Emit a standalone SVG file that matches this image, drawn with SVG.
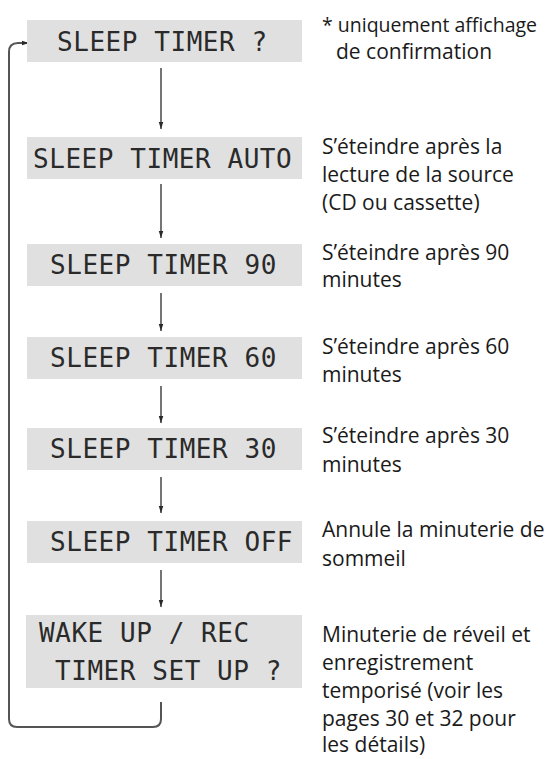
<svg xmlns="http://www.w3.org/2000/svg" width="551" height="759" viewBox="0 0 551 759">
<defs>
<marker id="ah" markerWidth="7" markerHeight="8" viewBox="0 0 10 10" refX="10" refY="5" orient="auto" markerUnits="userSpaceOnUse">
<path d="M0,1.8 L10,5 L0,8.2 Z" fill="#2a2a2a"/>
</marker>
<style>
.box{fill:#e0e0e0}
.lcd{font-family:"DejaVu Sans Mono","Liberation Mono",monospace;font-size:26px;letter-spacing:0.55px;fill:#2a2a2a}
.note{font-family:"Open Sans","Noto Sans",sans-serif;font-size:21px;fill:#1a1a1a}
.arr{stroke:#2a2a2a;stroke-width:1.3;fill:none;marker-end:url(#ah)}
.loop{stroke:#555;stroke-width:2;fill:none;marker-end:url(#ah)}
</style>
</defs>
<rect width="551" height="759" fill="#fff"/>
<g id="connectors">
<line class="arr" x1="161" y1="68" x2="161" y2="129"/>
<line class="arr" x1="161" y1="184" x2="161" y2="238"/>
<line class="arr" x1="161" y1="293" x2="161" y2="331"/>
<line class="arr" x1="161" y1="386" x2="161" y2="423"/>
<line class="arr" x1="161" y1="477" x2="161" y2="513"/>
<line class="arr" x1="161" y1="570" x2="161" y2="607"/>
<path class="loop" d="M161,702 V719 Q161,727 153,727 H17 Q9,727 9,719 V52 Q9,43 18,43 H29"/>
</g>
<g id="n1">
<rect class="box" x="27" y="20" width="275" height="42"/>
<text class="lcd" x="57" y="51">SLEEP TIMER ?</text>
<text class="note" x="322" y="32" style="font-size:19.5px">* uniquement affichage</text>
<text class="note" x="336" y="59">de confirmation</text>
</g>
<g id="n2">
<rect class="box" x="27" y="137" width="275" height="42"/>
<text class="lcd" x="33" y="168">SLEEP TIMER AUTO</text>
<text class="note" x="322" y="154">S’éteindre après la</text>
<text class="note" x="322" y="182">lecture de la source</text>
<text class="note" x="322" y="210">(CD ou cassette)</text>
</g>
<g id="n3">
<rect class="box" x="27" y="244" width="275" height="42"/>
<text class="lcd" x="50" y="274">SLEEP TIMER 90</text>
<text class="note" x="322" y="260">S’éteindre après 90</text>
<text class="note" x="322" y="287">minutes</text>
</g>
<g id="n4">
<rect class="box" x="27" y="337" width="275" height="42"/>
<text class="lcd" x="50" y="367">SLEEP TIMER 60</text>
<text class="note" x="322" y="354">S’éteindre après 60</text>
<text class="note" x="322" y="382">minutes</text>
</g>
<g id="n5">
<rect class="box" x="27" y="428" width="275" height="42"/>
<text class="lcd" x="50" y="458">SLEEP TIMER 30</text>
<text class="note" x="322" y="443">S’éteindre après 30</text>
<text class="note" x="322" y="472">minutes</text>
</g>
<g id="n6">
<rect class="box" x="27" y="521" width="275" height="42"/>
<text class="lcd" x="50" y="551">SLEEP TIMER OFF</text>
<text class="note" x="322" y="537">Annule la minuterie de</text>
<text class="note" x="322" y="566">sommeil</text>
</g>
<g id="n7">
<rect class="box" x="26" y="615" width="276" height="73"/>
<text class="lcd" x="39" y="642">WAKE UP / REC</text>
<text class="lcd" x="55" y="680">TIMER SET UP ?</text>
<text class="note" x="322" y="642">Minuterie de réveil et</text>
<text class="note" x="322" y="670">enregistrement</text>
<text class="note" x="322" y="698">temporisé (voir les</text>
<text class="note" x="322" y="726">pages 30 et 32 pour</text>
<text class="note" x="322" y="752">les détails)</text>
</g>
</svg>
